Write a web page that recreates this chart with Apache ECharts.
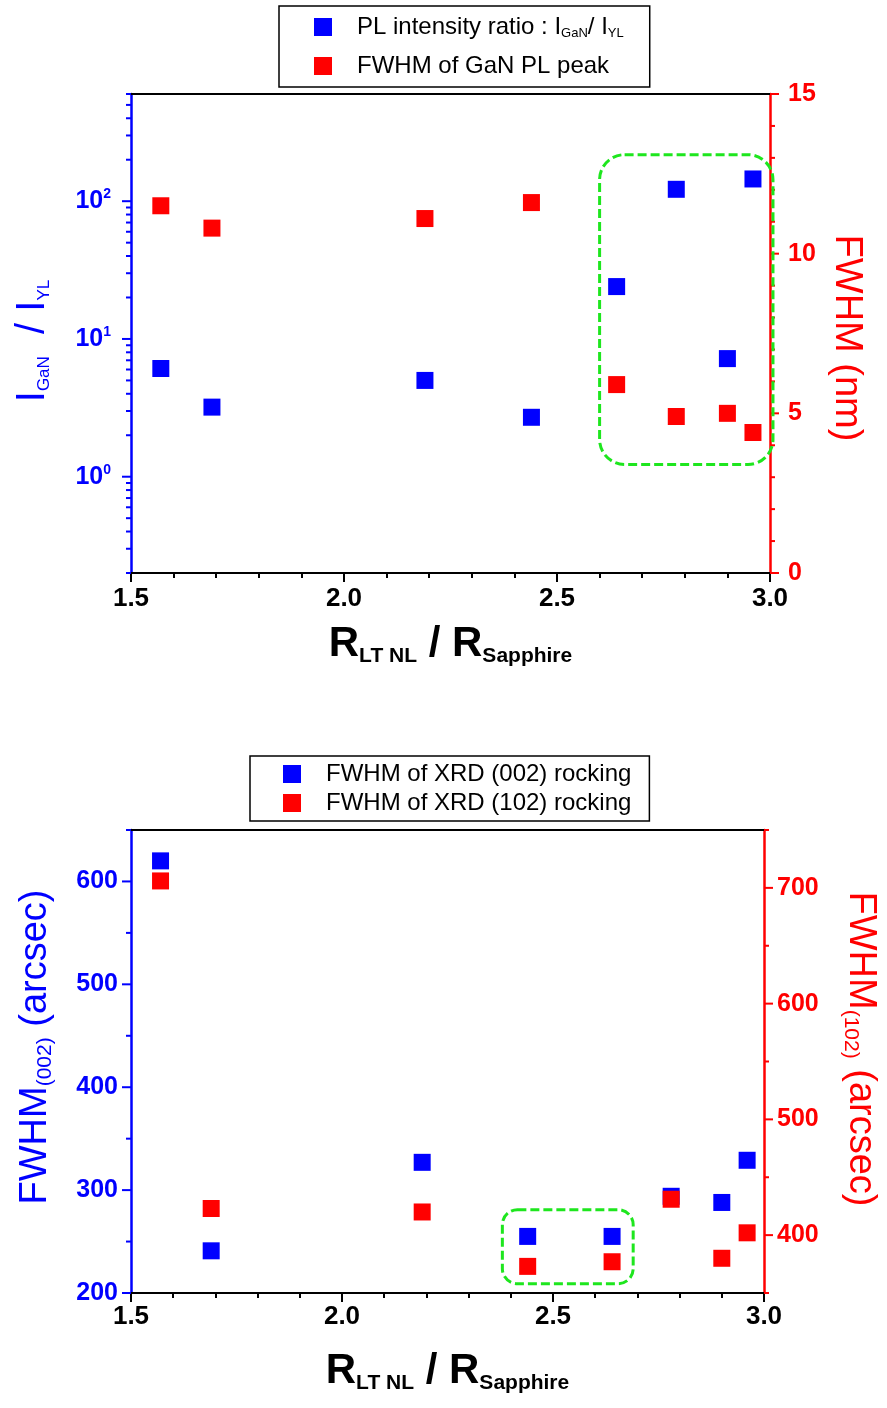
<!DOCTYPE html>
<html>
<head>
<meta charset="utf-8">
<script src="https://cdn.jsdelivr.net/npm/echarts@6/dist/echarts.min.js"></script>
<style>html,body{margin:0;padding:0;background:#fff}#c{width:887px;height:1408px}</style>
</head>
<body>
<div id="c"></div>
<script>
// ---------- data ----------
const ratioX = [1.57, 1.69, 2.19, 2.44, 2.64, 2.78, 2.90, 2.96];
const plIntensityRatio = [6.1, 3.2, 5.0, 2.7, 24, 122, 7.2, 145];
const fwhmGaNPL = [11.5, 10.8, 11.1, 11.6, 5.9, 4.9, 5.0, 4.4];
const xrd002 = [620, 241, 327, 255, 255, 294, 288, 329];
const xrd102 = [706, 423, 420, 373, 377, 431, 380, 402];

const topLeftMajorTicks = [1, 10, 100];
const topLeftMinorTicks = [0.2,0.3,0.4,0.5,0.6,0.7,0.8,0.9, 2,3,4,5,6,7,8,9, 20,30,40,50,60,70,80,90, 200,300,400,500,600];
const topRightMajorTicks = [0, 5, 10, 15];
const topRightMinorTicks = [1,2,3,4,6,7,8,9,11,12,13,14];
const botLeftMajorTicks = [200, 300, 400, 500, 600];
const botLeftMinorTicks = [250, 350, 450, 550, 650];
const botRightMajorTicks = [400, 500, 600, 700];
const botRightMinorTicks = [350, 450, 550, 650, 750];

// highlight boxes: [x1, y1, x2, y2]
const topHighlightBox = [2.60, 13.1, 3.007, 3.4];
const botHighlightBox = [2.38, 281, 2.69, 209];

const nameRatio = 'PL intensity ratio : IGaN/ IYL';
const nameFwhmPL = 'FWHM of GaN PL peak';
const name002 = 'FWHM of XRD (002) rocking';
const name102 = 'FWHM of XRD (102) rocking';

// ---------- styling ----------
const FONT = '"Liberation Sans", Arial, Helvetica, sans-serif';
const BLUE = '#0000FF', RED = '#FF0000', GREEN = '#1EE61E';

const xTitle = '{r|R}{s|LT NL}{r| / R}{s|Sapphire}';
const xTitleStyle = {
  fontFamily: FONT, color: '#000',
  rich: {
    r: {fontFamily: FONT, fontSize: 42, fontWeight: 'bold', color: '#000', lineHeight: 46},
    s: {fontFamily: FONT, fontSize: 21, fontWeight: 'bold', color: '#000', lineHeight: 18, verticalAlign: 'bottom'}
  }
};

function xMain(grid, nameGap, margin) {
  return {
    type: 'value', gridIndex: grid, min: 1.5, max: 3.0, interval: 0.5, position: 'bottom',
    axisLine: {show: true, onZero: false, lineStyle: {color: '#000', width: 2}},
    axisTick: {show: true, inside: false, length: 9, lineStyle: {color: '#000', width: 2}},
    minorTick: {show: true, splitNumber: 5, length: 5, lineStyle: {color: '#000', width: 2}},
    splitLine: {show: false}, minorSplitLine: {show: false},
    axisLabel: {margin: margin, color: '#000', fontFamily: FONT, fontSize: 26, fontWeight: 'bold',
      formatter: v => v.toFixed(1)},
    name: xTitle, nameLocation: 'middle', nameGap: nameGap, nameTextStyle: xTitleStyle
  };
}
function xTopLine(grid) {
  return {
    type: 'value', gridIndex: grid, min: 1.5, max: 3.0, position: 'top',
    axisLine: {show: true, onZero: false, lineStyle: {color: '#000', width: 2}},
    axisTick: {show: false}, axisLabel: {show: false}, splitLine: {show: false}
  };
}

function tickSeries(xIdx, yIdx, xAt, values, len, dir, color) {
  return {
    type: 'custom', xAxisIndex: xIdx, yAxisIndex: yIdx, silent: true, clip: false, z: 4,
    data: values.map(v => [xAt, v]),
    renderItem: function (params, api) {
      const p = api.coord([api.value(0), api.value(1)]);
      return {type: 'line', shape: {x1: p[0], y1: p[1], x2: p[0] + dir * len, y2: p[1]},
        style: {stroke: color, lineWidth: 2}};
    }
  };
}
function boxSeries(xIdx, yIdx, box, radius) {
  return {
    type: 'custom', xAxisIndex: xIdx, yAxisIndex: yIdx, silent: true, clip: false, z: 6,
    data: [box],
    renderItem: function (params, api) {
      const p1 = api.coord([api.value(0), api.value(1)]);
      const p2 = api.coord([api.value(2), api.value(3)]);
      return {type: 'rect',
        shape: {x: Math.min(p1[0], p2[0]), y: Math.min(p1[1], p2[1]),
          width: Math.abs(p2[0] - p1[0]), height: Math.abs(p2[1] - p1[1]), r: radius},
        style: {fill: 'none', stroke: GREEN, lineWidth: 3, lineDash: [9, 4]}};
    }
  };
}
function scatter(name, xIdx, yIdx, xs, ys, color) {
  return {
    type: 'scatter', name: name, xAxisIndex: xIdx, yAxisIndex: yIdx,
    symbol: 'rect', symbolSize: 17, itemStyle: {color: color, opacity: 1}, z: 5,
    data: xs.map((x, i) => [x, ys[i]])
  };
}

function logLabel(v) {
  const l = Math.log10(v), e = Math.round(l);
  if (Math.abs(l - e) > 1e-6) return '';
  return '{b|10}{e|' + e + '}';
}
const hundreds = v => (Math.abs(v % 100) < 1e-6 ? String(v) : '');

const legendRich = {
  t: {fontFamily: FONT, fontSize: 24, color: '#000', lineHeight: 26},
  s: {fontFamily: FONT, fontSize: 13, color: '#000', lineHeight: 10, verticalAlign: 'bottom'}
};
const legendText = {};
legendText[nameRatio] = '{t|PL intensity ratio : I}{s|GaN}{t|/ I}{s|YL}';
legendText[nameFwhmPL] = '{t|FWHM of GaN PL peak}';
legendText[name002] = '{t|FWHM of XRD (002) rocking}';
legendText[name102] = '{t|FWHM of XRD (102) rocking}';

function yName(color, big, small) {
  return {
    fontFamily: FONT, color: color,
    rich: {
      m: {fontFamily: FONT, fontSize: big, color: color, lineHeight: 40},
      s: {fontFamily: FONT, fontSize: small, color: color, lineHeight: 16, verticalAlign: 'bottom'}
    }
  };
}

const option = {
  animation: false,
  backgroundColor: '#fff',
  textStyle: {fontFamily: FONT},
  grid: [
    {left: 131, right: 117, top: 94, height: 479, containLabel: false},
    {left: 131, right: 122, top: 830, height: 463, containLabel: false}
  ],
  legend: [
    {
      orient: 'vertical', left: 279, top: 6, padding: [8, 26, 8, 35], itemGap: 13,
      itemWidth: 18, itemHeight: 18, icon: 'rect', selectedMode: false,
      borderColor: '#000', borderWidth: 1.5, backgroundColor: '#fff',
      data: [nameRatio, nameFwhmPL],
      formatter: n => legendText[n],
      textStyle: {fontFamily: FONT, fontSize: 24, color: '#000', lineHeight: 26, padding: [0, 0, 0, 20], rich: legendRich}
    },
    {
      orient: 'vertical', left: 250, top: 756, padding: [5, 18, 5, 33], itemGap: 3,
      itemWidth: 18, itemHeight: 18, icon: 'rect', selectedMode: false,
      borderColor: '#000', borderWidth: 1.5, backgroundColor: '#fff',
      data: [name002, name102],
      formatter: n => legendText[n],
      textStyle: {fontFamily: FONT, fontSize: 24, color: '#000', lineHeight: 26, padding: [0, 0, 0, 20], rich: legendRich}
    }
  ],
  xAxis: [
    xMain(0, 48, 13),
    xTopLine(0),
    xMain(1, 55, 11),
    xTopLine(1)
  ],
  yAxis: [
    {
      type: 'log', logBase: 10, gridIndex: 0, position: 'left', min: 0.2, max: 600,
      axisLine: {show: true, onZero: false, lineStyle: {color: BLUE, width: 2.5}},
      axisTick: {show: false}, splitLine: {show: false}, minorTick: {show: false},
      axisLabel: {margin: 20, formatter: logLabel, rich: {
        b: {fontFamily: FONT, fontSize: 25, fontWeight: 'bold', color: BLUE, lineHeight: 28},
        e: {fontFamily: FONT, fontSize: 14, fontWeight: 'bold', color: BLUE, lineHeight: 14, verticalAlign: 'top'}
      }},
      name: '{m|I}{s|GaN}{m|  / I}{s|YL}', nameLocation: 'middle', nameRotate: 90, nameGap: 78,
      nameTextStyle: Object.assign(yName(BLUE, 40, 17), {padding: [0, 15, 0, 0]})
    },
    {
      type: 'value', gridIndex: 0, position: 'right', min: 0, max: 15, interval: 5,
      axisLine: {show: true, onZero: false, lineStyle: {color: RED, width: 2.5}},
      axisTick: {show: false}, splitLine: {show: false},
      axisLabel: {margin: 18, color: RED, fontFamily: FONT, fontSize: 25, fontWeight: 'bold'},
      name: '{m|FWHM (nm)}', nameLocation: 'middle', nameRotate: -90, nameGap: 56,
      nameTextStyle: Object.assign(yName(RED, 38, 16), {padding: [0, 0, 0, 9]})
    },
    {
      type: 'value', gridIndex: 1, position: 'left', min: 200, max: 650,
      axisLine: {show: true, onZero: false, lineStyle: {color: BLUE, width: 2.5}},
      axisTick: {show: false}, splitLine: {show: false},
      axisLabel: {margin: 13, color: BLUE, fontFamily: FONT, fontSize: 25, fontWeight: 'bold', formatter: hundreds},
      name: '{m|FWHM}{s|(002)}{m| (arcsec)}', nameLocation: 'middle', nameRotate: 90, nameGap: 75,
      nameTextStyle: Object.assign(yName(BLUE, 38, 21), {padding: [0, 0, 0, 29]})
    },
    {
      type: 'value', gridIndex: 1, position: 'right', min: 350, max: 750,
      axisLine: {show: true, onZero: false, lineStyle: {color: RED, width: 2.5}},
      axisTick: {show: false}, splitLine: {show: false},
      axisLabel: {margin: 13, color: RED, fontFamily: FONT, fontSize: 25, fontWeight: 'bold', formatter: hundreds},
      name: '{m|FWHM}{s|(102)}{m| (arcsec)}', nameLocation: 'middle', nameRotate: -90, nameGap: 76,
      nameTextStyle: Object.assign(yName(RED, 38, 21), {padding: [0, 25, 0, 0]})
    }
  ],
  series: [
    tickSeries(0, 0, 1.5, topLeftMajorTicks, 9, -1, BLUE),
    tickSeries(0, 0, 1.5, topLeftMinorTicks, 5, -1, BLUE),
    tickSeries(0, 1, 3.0, topRightMajorTicks, 9, 1, RED),
    tickSeries(0, 1, 3.0, topRightMinorTicks, 5, 1, RED),
    tickSeries(2, 2, 1.5, botLeftMajorTicks, 9, -1, BLUE),
    tickSeries(2, 2, 1.5, botLeftMinorTicks, 5, -1, BLUE),
    tickSeries(2, 3, 3.0, botRightMajorTicks, 9, 1, RED),
    tickSeries(2, 3, 3.0, botRightMinorTicks, 5, 1, RED),
    scatter(nameRatio, 0, 0, ratioX, plIntensityRatio, BLUE),
    scatter(nameFwhmPL, 0, 1, ratioX, fwhmGaNPL, RED),
    scatter(name002, 2, 2, ratioX, xrd002, BLUE),
    scatter(name102, 2, 3, ratioX, xrd102, RED),
    boxSeries(0, 1, topHighlightBox, 25),
    boxSeries(2, 2, botHighlightBox, 15)
  ]
};

const chart = echarts.init(document.getElementById('c'), null, {renderer: 'canvas'});
chart.setOption(option);
</script>
</body>
</html>
